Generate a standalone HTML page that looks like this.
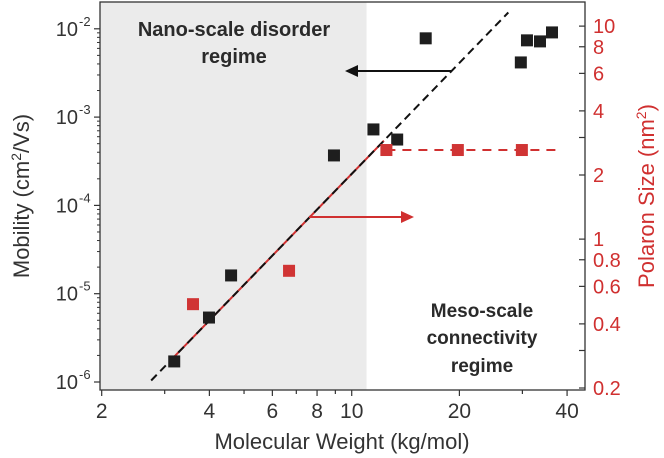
<!DOCTYPE html>
<html><head><meta charset="utf-8"><style>
html,body{margin:0;padding:0;background:#fff;}
svg{display:block;font-family:"Liberation Sans",Arial,sans-serif;}
</style></head><body>
<svg id="chart" width="664" height="458" viewBox="0 0 664 458" xmlns="http://www.w3.org/2000/svg">
<g id="bg"></g><g id="marks"></g><g id="axes"></g>
</svg>
<script>
const mobilityMW = [3.19, 3.99, 4.6, 8.92, 11.5, 13.4, 16.1, 29.7, 30.9, 33.6, 36.3];
const mobilityVals = [1.71e-6, 5.37e-6, 1.61e-5, 3.68e-4, 7.25e-4, 5.57e-4, 7.8e-3, 4.16e-3, 7.4e-3, 7.2e-3, 9.1e-3];
const polaronMW = [3.6, 6.68, 12.5, 19.8, 29.9];
const polaronVals = [0.495, 0.71, 2.62, 2.62, 2.62];
const fitMW = [2.75, 27.4];
const fitMob = [1.04e-6, 1.53e-2];
const xTicks = [2, 4, 6, 8, 10, 20, 40];
const yLeftExps = [-2, -3, -4, -5, -6];
const yRightTicks = [10, 8, 6, 4, 2, 1, 0.8, 0.6, 0.4, 0.2];
const regimeBoundary = 11.0;

const NS = "http://www.w3.org/2000/svg";
const L = 100, R = 585, T = 2, B = 390;
const X = v => 101.7 + (Math.log10(v) - Math.log10(2)) * 357.7;
const YL = v => 382 - (Math.log10(v) + 6) * 88.3;
const YR = v => 388 - (Math.log10(v) - Math.log10(0.2)) * 213;
function el(parent, tag, attrs, text) {
  const e = document.createElementNS(NS, tag);
  for (const k in attrs) e.setAttribute(k, attrs[k]);
  if (text !== undefined) e.textContent = text;
  document.getElementById(parent).appendChild(e);
  return e;
}
let e = el('bg', 'rect', {x: L, y: T, width: X(regimeBoundary) - L, height: B - T, fill: '#ebebeb'});



const slope = (Math.log10(fitMob[1]) - Math.log10(fitMob[0])) / (Math.log10(fitMW[1]) - Math.log10(fitMW[0]));
const mobAt = m => fitMob[0] * Math.pow(m / fitMW[0], slope);
e = el('marks', 'line', {x1: X(3.19), y1: YL(mobAt(3.19)), x2: X(12.3), y2: YL(mobAt(12.3)), stroke: '#d03030', 'stroke-width': 2});


e = el('marks', 'line', {x1: X(fitMW[0]), y1: YL(fitMob[0]), x2: X(fitMW[1]), y2: YL(fitMob[1]), stroke: '#111', 'stroke-width': 2, 'stroke-dasharray': '8,5'});


e = el('marks', 'line', {x1: X(12.5), y1: YR(polaronVals[2]), x2: X(38), y2: YR(polaronVals[2]), stroke: '#d03030', 'stroke-width': 2, 'stroke-dasharray': '9,7'});



mobilityMW.forEach((m, i) => {
  const p = el('marks', 'rect', {x: X(m) - 6, y: YL(mobilityVals[i]) - 6, width: 12, height: 12, fill: '#1e1e1e'});
  
  
});
polaronMW.forEach((m, i) => {
  const p = el('marks', 'rect', {x: X(m) - 6, y: YR(polaronVals[i]) - 6, width: 12, height: 12, fill: '#d03434'});
  
  
});

e = el('marks', 'line', {x1: 451, y1: 71, x2: 355, y2: 71, stroke: '#111', 'stroke-width': 2});


e = el('marks', 'polygon', {points: '345,71 358,65 358,77', fill: '#111'});


e = el('marks', 'line', {x1: 309, y1: 217, x2: 403, y2: 217, stroke: '#d03030', 'stroke-width': 2});


e = el('marks', 'polygon', {points: '414,217 401,211 401,223', fill: '#d03030'});



[['Nano-scale disorder', 234, 36], ['regime', 234, 63]].forEach(t => {
  const a = el('marks', 'text', {x: t[1], y: t[2], 'text-anchor': 'middle', 'font-size': 20, 'font-weight': 'bold', fill: '#2a2a2a'}, t[0]);
  
  
});
[['Meso-scale', 482, 317], ['connectivity', 482, 344], ['regime', 482, 372]].forEach(t => {
  const a = el('marks', 'text', {x: t[1], y: t[2], 'text-anchor': 'middle', 'font-size': 19, 'font-weight': 'bold', fill: '#2a2a2a'}, t[0]);
  
  
});

e = el('axes', 'rect', {x: L, y: T, width: R - L, height: B - T, fill: 'none', stroke: '#333', 'stroke-width': 1.3});



for (let d = 2; d <= 40; d += (d < 10 ? 1 : 10)) {
  const major = xTicks.includes(d);
  const t = el('axes', 'line', {x1: X(d), y1: B, x2: X(d), y2: B + (major ? 6 : 4), stroke: '#333', 'stroke-width': 1.2});
  
  
}
xTicks.forEach(v => {
  const t = el('axes', 'text', {x: X(v), y: 418, 'text-anchor': 'middle', 'font-size': 21, fill: '#333'}, String(v));
  
  
});
yLeftExps.forEach(ex => {
  const y = YL(Math.pow(10, ex));
  const t = el('axes', 'line', {x1: L - 6, y1: y, x2: L, y2: y, stroke: '#333', 'stroke-width': 1.2});
  
  
  for (let m = 2; m <= 9; m++) {
    const v = m * Math.pow(10, ex);
    if (v > 0.0125) continue;
    const mt = el('axes', 'line', {x1: L - 3, y1: YL(v), x2: L, y2: YL(v), stroke: '#333', 'stroke-width': 1});
    
    
  }
  const lab = el('axes', 'text', {x: 78, y: y + 7, 'text-anchor': 'end', 'font-size': 20, fill: '#333'}, '10');
  
  
  const sup = el('axes', 'text', {x: 79, y: y - 3, 'text-anchor': 'start', 'font-size': 13, fill: '#333'}, String(ex));
  
  
});
yRightTicks.concat([3, 0.3]).forEach(v => {
  const y = YR(v);
  const t = el('axes', 'line', {x1: R - 6, y1: y, x2: R, y2: y, stroke: '#333', 'stroke-width': 1.2});
  
  
});
yRightTicks.forEach(v => {
  const t = el('axes', 'text', {x: 593, y: YR(v) + 7, 'font-size': 20, fill: '#d03030'}, String(v));
  
  
});
e = el('axes', 'text', {x: 342, y: 449, 'text-anchor': 'middle', 'font-size': 22, fill: '#333'}, 'Molecular Weight (kg/mol)');


e = el('axes', 'text', {transform: 'translate(29,196) rotate(-90)', 'text-anchor': 'middle', 'font-size': 22, fill: '#333'});


e.innerHTML = 'Mobility (cm<tspan dy="-8" font-size="14">2</tspan><tspan dy="8">/Vs)</tspan>';
e = el('axes', 'text', {transform: 'translate(654,196) rotate(-90)', 'text-anchor': 'middle', 'font-size': 22, fill: '#d03030'});


e.innerHTML = 'Polaron Size (nm<tspan dy="-8" font-size="14">2</tspan><tspan dy="8">)</tspan>';
</script>
</body></html>
